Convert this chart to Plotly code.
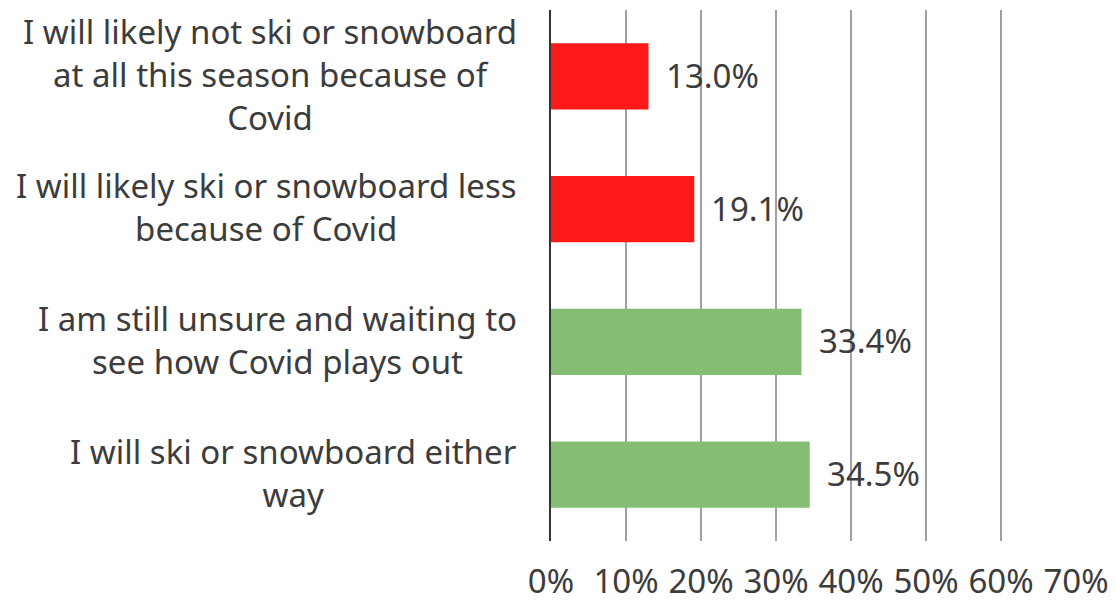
import plotly.graph_objects as go

categories = [
    "I will likely not ski or snowboard<br>at all this season because of<br>Covid",
    "I will likely ski or snowboard less<br>because of Covid",
    "I am still unsure and waiting to<br>see how Covid plays out",
    "I will ski or snowboard either<br>way",
]
values = [0.130, 0.191, 0.334, 0.345]
value_labels = ["13.0%", "19.1%", "33.4%", "34.5%"]
bar_colors = ["#FF1A1A", "#FF1A1A", "#85BD74", "#85BD74"]
tick_vals = [0, 0.1, 0.2, 0.3, 0.4, 0.5, 0.6, 0.7]
tick_text = ["0%", "10%", "20%", "30%", "40%", "50%", "60%", "70%"]

FONT = "Noto Sans"
TXT = "#3c3c3c"
FS = 33

fig = go.Figure()
fig.add_trace(go.Bar(
    x=values, y=categories, orientation="h",
    marker=dict(color=bar_colors, line=dict(width=0)),
    hoverinfo="skip",
))

for cat, v, lab in zip(categories, values, value_labels):
    fig.add_annotation(x=v, y=cat, xref="x", yref="y", text=lab, showarrow=False,
                       xanchor="left", yanchor="middle", xshift=15, yshift=1,
                       font=dict(family=FONT, size=FS, color=TXT))
    fig.add_annotation(x=0, y=cat, xref="x", yref="y", text=cat, showarrow=False,
                       xanchor="right", yanchor="middle", xshift=-32, yshift=2, align="center",
                       font=dict(family=FONT, size=FS, color=TXT))

fig.update_layout(
    width=1116, height=603,
    margin=dict(l=551, r=40, t=9.5, b=61.5, autoexpand=False),
    paper_bgcolor="white", plot_bgcolor="white",
    bargap=0.5, showlegend=False,
    font=dict(family=FONT, size=FS, color=TXT),
)
fig.update_xaxes(
    range=[0, 0.7], tickvals=tick_vals, ticktext=tick_text,
    showgrid=True, gridcolor="#A0A0A0", gridwidth=1.6,
    zeroline=False, showline=False, ticks="", ticklabelstandoff=18,
    automargin=False,
    tickfont=dict(family=FONT, size=FS, color=TXT),
)
fig.update_yaxes(
    autorange="reversed", showticklabels=False, showgrid=False, automargin=False,
    showline=True, linecolor="#333333", linewidth=1.6, zeroline=False, ticks="",
)

fig.write_html("out.html", config={"displayModeBar": False},
               post_script="document.body.style.margin='0';document.body.style.overflow='hidden';")
